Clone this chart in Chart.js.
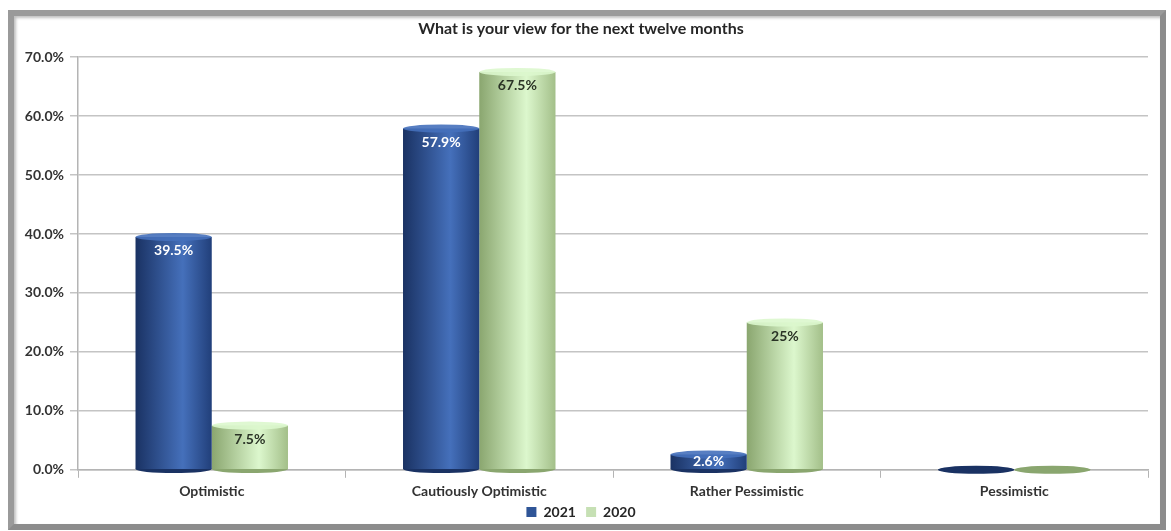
<!DOCTYPE html>
<html lang="en">
<head>
    <meta charset="UTF-8">
    <title>What is your view for the next twelve months</title>
    <script src="https://cdn.jsdelivr.net/npm/chart.js@4.4.1/dist/chart.umd.min.js"></script>
    <style>
        html, body {
            margin: 0;
            padding: 0;
            background: #ffffff;
            width: 1171px;
            height: 531px;
            overflow: hidden;
        }
        .frame {
            position: absolute;
            left: 8px;
            top: 10px;
            width: 1158px;
            height: 520px;
            box-sizing: border-box;
            border: 6px solid #8c8c8c;
            border-top-color: #9a9a9a;
            border-left-color: #9a9a9a;
            box-shadow: inset 2px 2px 3px rgba(0,0,0,0.25);
            background: #fff;
        }
        .chart-box {
            position: absolute;
            left: 0;
            top: 0;
            width: 1146px;
            height: 513px;
        }
    </style>
</head>
<body>
    <div class="frame">
        <div class="chart-box"><canvas id="viewChart"></canvas></div>
    </div>

    <script>
        // data
        const categories = ['Optimistic', 'Cautiously Optimistic', 'Rather Pessimistic', 'Pessimistic'];
        const values2021 = [39.5, 57.9, 2.6, 0];
        const values2020 = [7.5, 67.5, 25, 0];
        const labels2021 = ['39.5%', '57.9%', '2.6%', ''];
        const labels2020 = ['7.5%', '67.5%', '25%', ''];
        const seriesNames = ['2021', '2020'];

        const FONT = "Lato, 'Open Sans', sans-serif";

        // colour stops for the cylinder look (left edge, highlight, right edge)
        const blueStops = ['#1a3263', '#4570bb', '#213f7a'];
        const greenStops = ['#8aa66f', '#dcf7cd', '#a3bf89'];
        const labelColors = ['#ffffff', '#2a3326'];

        function cylinderFill(stops) {
            return function(ctx) {
                const el = ctx.element;
                if (!el || el.x == null || isNaN(el.x) || !el.width) return stops[1];
                const x0 = el.x - el.width / 2;
                const g = ctx.chart.ctx.createLinearGradient(x0, 0, x0 + el.width, 0);
                g.addColorStop(0, stops[0]);
                g.addColorStop(0.62, stops[1]);
                g.addColorStop(1, stops[2]);
                return g;
            };
        }

        // round tops and bottoms of the bars + the value labels
        const cylinderPlugin = {
            id: 'cylinders',
            beforeDatasetsDraw(chart) {
                const c = chart.ctx;
                chart.data.datasets.forEach((ds, i) => {
                    const meta = chart.getDatasetMeta(i);
                    meta.data.forEach(el => {
                        const rx = el.width / 2;
                        c.save();
                        c.beginPath();
                        c.ellipse(el.x, el.base, rx, 4, 0, 0, Math.PI * 2);
                        c.fillStyle = ds._stops[0];
                        c.fill();
                        c.restore();
                    });
                });
            },
            afterDatasetsDraw(chart) {
                const c = chart.ctx;
                chart.data.datasets.forEach((ds, i) => {
                    const meta = chart.getDatasetMeta(i);
                    meta.data.forEach((el, j) => {
                        const rx = el.width / 2;
                        const h = el.base - el.y;
                        c.save();
                        c.beginPath();
                        c.ellipse(el.x, el.y, rx, h > 2 ? 4 : 2.5, 0, 0, Math.PI * 2);
                        c.fillStyle = h > 2 ? ds._stops[1] : ds._stops[0];
                        c.globalAlpha = h > 2 ? 0.9 : 1;
                        c.fill();
                        c.restore();

                        const txt = ds._labels[j];
                        if (!txt) return;
                        c.save();
                        c.font = "bold 14px " + FONT;
                        c.fillStyle = labelColors[i];
                        c.textAlign = 'center';
                        c.textBaseline = 'middle';
                        const ty = h < 26 ? (el.y + el.base) / 2 : el.y + 14;
                        c.fillText(txt, el.x, ty);
                        c.restore();
                    });
                });
            }
        };

        const viewChart = new Chart(document.getElementById('viewChart'), {
            type: 'bar',
            data: {
                labels: categories,
                datasets: [
                    {
                        label: seriesNames[0],
                        data: values2021,
                        _labels: labels2021,
                        _stops: blueStops,
                        backgroundColor: cylinderFill(blueStops),
                        borderWidth: 0,
                        categoryPercentage: 0.57,
                        barPercentage: 1.0
                    },
                    {
                        label: seriesNames[1],
                        data: values2020,
                        _labels: labels2020,
                        _stops: greenStops,
                        backgroundColor: cylinderFill(greenStops),
                        borderWidth: 0,
                        categoryPercentage: 0.57,
                        barPercentage: 1.0
                    }
                ]
            },
            options: {
                responsive: true,
                maintainAspectRatio: false,
                animation: false,
                layout: {
                    padding: { left: 0, right: 12, top: 0, bottom: 0 }
                },
                plugins: {
                    title: {
                        display: true,
                        text: 'What is your view for the next twelve months',
                        color: '#262626',
                        font: { family: FONT, size: 16, weight: 'bold' },
                        padding: { top: 3, bottom: 19 }
                    },
                    legend: {
                        position: 'bottom',
                        labels: {
                            color: '#262626',
                            font: { family: FONT, size: 14, weight: 'bold', lineHeight: 0.75 },
                            boxWidth: 10,
                            boxHeight: 10,
                            padding: 0,
                            generateLabels(chart) {
                                const fills = ['#2f5597', '#c6e0b4'];
                                const n = chart.data.datasets.length;
                                return chart.data.datasets.map((ds, i) => ({
                                    // trailing spaces keep a gap between the two items
                                    text: ds.label + (i < n - 1 ? '   ' : ''),
                                    fillStyle: fills[i],
                                    strokeStyle: fills[i],
                                    lineWidth: 0,
                                    datasetIndex: i,
                                    fontColor: '#262626'
                                }));
                            }
                        }
                    },
                    tooltip: { enabled: false }
                },
                scales: {
                    x: {
                        offset: true,
                        grid: {
                            display: true,
                            drawOnChartArea: false,
                            drawTicks: true,
                            tickLength: 8,
                            color: '#b4b4b4',
                            offset: true
                        },
                        border: { color: '#b4b4b4', width: 1.5 },
                        ticks: {
                            color: '#333333',
                            font: { family: FONT, size: 14, weight: 'bold', lineHeight: 0.8 },
                            padding: 8
                        }
                    },
                    y: {
                        min: 0,
                        max: 70,
                        afterFit(scale) { scale.width = 64; },
                        grid: {
                            color: '#c4c4c4',
                            lineWidth: 1.5,
                            tickLength: 8
                        },
                        border: { color: '#b4b4b4', width: 1.5 },
                        ticks: {
                            stepSize: 10,
                            color: '#333333',
                            padding: 6,
                            font: { family: FONT, size: 14, weight: 'bold' },
                            callback: v => v.toFixed(1) + '%'
                        }
                    }
                }
            },
            plugins: [cylinderPlugin]
        });
        // second pass so the gradients know where the bars sit
        viewChart.update('none');
    </script>
</body>
</html>
